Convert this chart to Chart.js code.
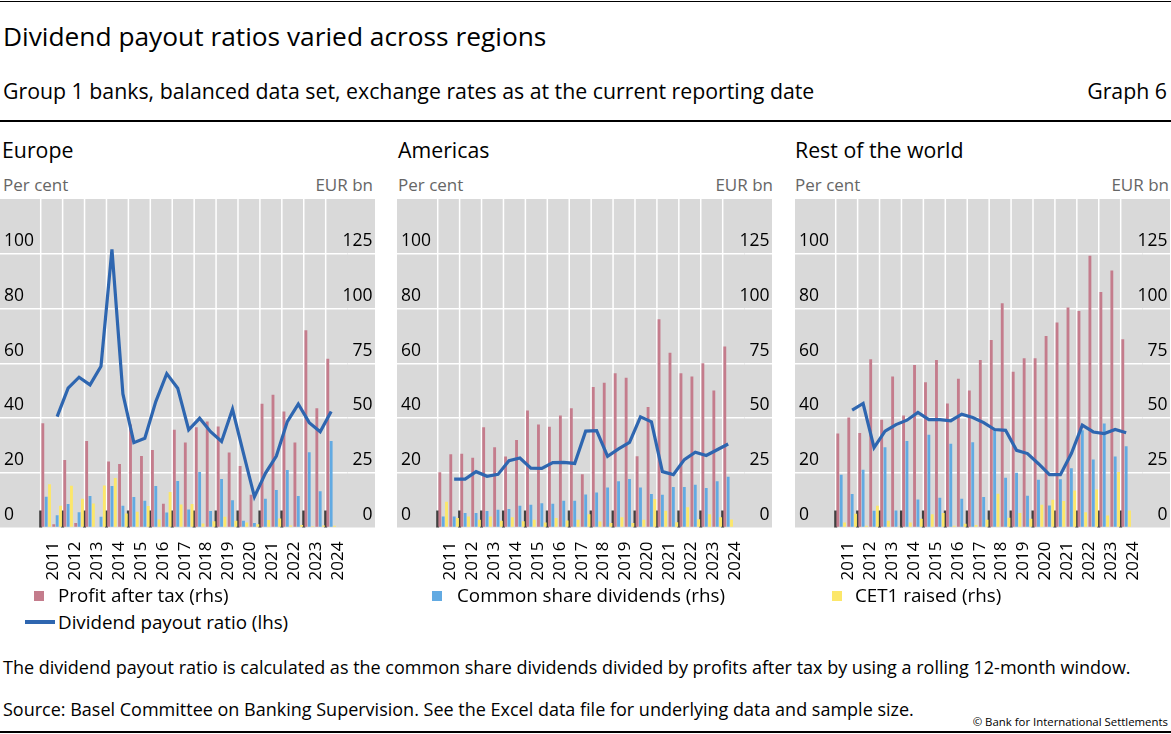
<!DOCTYPE html>
<html>
<head>
<meta charset="utf-8">
<script src="https://cdn.jsdelivr.net/npm/chart.js@4/dist/chart.umd.min.js"></script>
<style>
  body { margin: 0; background: #fff; width: 1171px; height: 734px; position: relative; overflow: hidden; font-family: "Open Sans", sans-serif; color: #000; }
  .t { position: absolute; white-space: nowrap; line-height: 1; }
  .rule { position: absolute; left: 0; width: 1171px; height: 1.5px; background: #000; }
  .panel { position: absolute; top: 199px; width: 375px; height: 400px; }
  .unit { color: #666; font-size: 17px; }
  .unit.r { width: 80px; text-align: right; }
  .sq { position: absolute; width: 10px; height: 10px; }
  .lg { font-size: 18.8px; }
</style>
</head>
<body>
<div class="rule" style="top:0.5px"></div>
<div class="t" style="left:3px; top:23.3px; font-size:26.3px;">Dividend payout ratios varied across regions</div>
<div class="t" style="left:3px; top:80.2px; font-size:21.3px;">Group 1 banks, balanced data set, exchange rates as at the current reporting date</div>
<div class="t" style="right:4px; top:80.2px; font-size:21.3px;">Graph 6</div>
<div class="rule" style="top:120px"></div>

<div class="t" style="left:2px; top:139px; font-size:21.3px;">Europe</div>
<div class="t" style="left:398px; top:139px; font-size:21.3px;">Americas</div>
<div class="t" style="left:795px; top:139px; font-size:21.3px;">Rest of the world</div>

<div class="t unit" style="left:3px; top:176px;">Per cent</div>
<div class="t unit" style="left:398px; top:176px;">Per cent</div>
<div class="t unit" style="left:795px; top:176px;">Per cent</div>
<div class="t unit r" style="left:293px; top:176px;">EUR bn</div>
<div class="t unit r" style="left:693px; top:176px;">EUR bn</div>
<div class="t unit r" style="left:1089px; top:176px;">EUR bn</div>

<div class="panel" style="left:0px"><canvas id="europe" width="375" height="400"></canvas></div>
<div class="panel" style="left:397px"><canvas id="americas" width="375" height="400"></canvas></div>
<div class="panel" style="left:795px"><canvas id="rest" width="375" height="400"></canvas></div>

<div class="sq" style="left:34px; top:591px; background:#c47c8c;"></div>
<div class="t lg" style="left:58px; top:586.3px;">Profit after tax (rhs)</div>
<div class="sq" style="left:432px; top:591px; background:#62aae2;"></div>
<div class="t lg" style="left:457px; top:586.3px;">Common share dividends (rhs)</div>
<div class="sq" style="left:832px; top:591px; background:#fce76a;"></div>
<div class="t lg" style="left:855px; top:586.3px;">CET1 raised (rhs)</div>
<div style="position:absolute; left:25px; top:620px; width:30px; height:3.5px; background:#2e66b0;"></div>
<div class="t lg" style="left:58px; top:613px;">Dividend payout ratio (lhs)</div>

<div class="t" style="left:3px; top:658.1px; font-size:18px;">The dividend payout ratio is calculated as the common share dividends divided by profits after tax by using a rolling 12-month window.</div>
<div class="t" style="left:3px; top:700.4px; font-size:18px;">Source: Basel Committee on Banking Supervision. See the Excel data file for underlying data and sample size.</div>
<div class="t" style="right:3px; top:716px; font-size:11.4px;">© Bank for International Settlements</div>
<div class="rule" style="top:731px"></div>

<script>
// half-year periods, 2011 H1 .. 2024 H2 (2024 H2 not yet reported)
const years = ['2011', '2012', '2013', '2014', '2015', '2016', '2017', '2018', '2019', '2020', '2021', '2022', '2023', '2024'];
const halfYears = [];
years.forEach(y => { halfYears.push(y + ' H1'); halfYears.push(y + ' H2'); });

const lhsTicks = [0, 20, 40, 60, 80, 100];
const rhsTicks = [0, 25, 50, 75, 100, 125];

// Europe
const europeProfit = [47.6, 1.5, 30.8, 2.0, 39.5, 0.3, 30.1, 29.0, 47.0, 32.7, 35.4, 10.8, 44.6, 38.8, 45.8, 48.4, 46.1, 34.2, 28.1, 15.0, 56.5, 60.6, 53.0, 38.8, 90.1, 54.5, 77.1];
const europeDividends = [14.0, 5.6, 10.7, 7.0, 14.4, 4.9, 18.9, 9.9, 13.9, 12.2, 18.9, 6.9, 21.2, 8.2, 25.3, 7.5, 22.1, 12.5, 3.1, 2.1, 13.1, 17.1, 26.3, 14.4, 34.4, 16.6, 39.5];
const europeCet1 = [19.7, 9.9, 19.1, 13.1, 11.0, 19.2, 22.6, 6.4, 7.2, 9.8, 3.7, 16.2, 10.5, 10.7, 1.8, 2.9, 4.9, 3.1, 2.3, 1.5, 3.4, 4.1, 0.9, 1.1, 0.6, 0.9, 0.8];
const europePayout = [null, 40.5, 50.9, 54.9, 52.1, 58.9, 101.6, 48.8, 31.0, 32.6, 46.0, 56.2, 50.9, 35.7, 39.9, 35.0, 31.4, 43.2, 27.1, 11.2, 19.8, 26.1, 38.7, 45.1, 38.3, 35.0, 42.4];

// Americas
const americasProfit = [25.2, 33.4, 33.7, 31.8, 45.8, 36.6, 32.4, 40.0, 53.4, 47.0, 46.0, 51.1, 54.4, 24.3, 64.1, 66.1, 70.4, 68.4, 32.5, 55.0, 95.1, 79.8, 70.4, 68.9, 75.0, 62.6, 82.7];
const americasDividends = [5.0, 5.0, 6.6, 6.6, 7.5, 8.1, 8.5, 9.9, 10.4, 11.1, 10.8, 12.2, 12.2, 15.1, 16.0, 18.3, 21.1, 22.1, 18.3, 15.3, 15.0, 18.5, 18.5, 19.5, 18.0, 21.1, 23.2];
const americasCet1 = [11.8, 4.3, 5.0, 3.5, 5.0, 3.1, 4.7, 2.9, 3.5, 2.3, 4.3, 3.2, 3.5, 6.1, 2.7, 2.0, 4.7, 2.0, 3.5, 13.0, 7.6, 2.4, 9.3, 3.8, 6.1, 4.7, 3.7];
const americasPayout = [null, 17.7, 17.7, 20.4, 18.7, 19.4, 24.4, 25.4, 21.7, 21.6, 23.7, 23.8, 23.4, 35.2, 35.4, 26.0, 28.7, 31.1, 40.4, 38.6, 20.4, 19.3, 24.8, 27.5, 26.3, 28.4, 30.5];

// Rest of the world
const restProfit = [42.9, 50.2, 43.1, 76.8, 49.2, 69.0, 51.1, 74.2, 66.3, 76.5, 56.6, 67.9, 62.6, 76.5, 85.6, 102.4, 71.1, 77.3, 77.3, 87.5, 93.6, 100.5, 98.9, 124.1, 107.5, 117.4, 86.0];
const restDividends = [24.1, 15.3, 26.4, 7.6, 36.6, 7.8, 39.5, 12.8, 42.4, 13.6, 38.2, 13.1, 38.9, 13.9, 44.4, 22.7, 25.0, 14.5, 21.8, 10.1, 22.0, 27.0, 44.4, 31.1, 47.5, 32.4, 37.1];
const restCet1 = [2.3, 6.3, 0.8, 9.9, 3.1, 0.5, 2.3, 4.0, 6.0, 6.6, 0.8, 1.7, 1.1, 3.5, 15.4, 4.4, 6.6, 4.0, 10.4, 12.7, 12.1, 16.9, 7.0, 17.3, 5.5, 25.3, 7.8];
const restPayout = [null, 42.9, 45.3, 29.2, 35.2, 37.6, 39.2, 42.0, 39.4, 39.4, 39.0, 41.4, 40.2, 38.3, 35.8, 35.5, 28.2, 27.0, 23.3, 19.3, 19.3, 27.0, 37.4, 34.9, 34.3, 35.8, 34.6];

Chart.defaults.font.family = '"Open Sans", sans-serif';
Chart.defaults.color = '#000';

// grey plot background, also behind the axis labels
const plotBackground = {
    id: 'plotBackground',
    beforeDraw(chart) {
        const { ctx, chartArea } = chart;
        ctx.save();
        ctx.fillStyle = '#d9d9d9';
        ctx.fillRect(0, chartArea.top, chart.width, chartArea.bottom - chartArea.top);
        ctx.restore();
    }
};

// white year gridlines plus short dark tick marks at the start of each year
const yearMarks = {
    id: 'yearMarks',
    beforeDatasetsDraw(chart) {
        const { ctx, chartArea } = chart;
        const xs = chart.scales.x;
        const half = (xs.getPixelForValue(1) - xs.getPixelForValue(0)) / 2;
        ctx.save();
        years.forEach((y, i) => {
            const px = xs.getPixelForValue(i * 2) - half;
            ctx.fillStyle = '#ffffff';
            ctx.fillRect(px - 0.75, chartArea.top, 1.5, chartArea.bottom - chartArea.top);
            ctx.fillStyle = '#404040';
            ctx.fillRect(px - 1.5, chartArea.bottom - 17, 3, 17);
        });
        ctx.restore();
    }
};

function makePanel(id, profit, dividends, cet1, payout) {
    const ctx = document.getElementById(id).getContext('2d');
    const barOpts = { yAxisID: 'y1', xAxisID: 'x', order: 2, barPercentage: 0.85, categoryPercentage: 0.92 };
    return new Chart(ctx, {
        type: 'bar',
        data: {
            labels: halfYears,
            datasets: [
                { label: 'Dividend payout ratio (lhs)', type: 'line', data: payout, yAxisID: 'y', xAxisID: 'x', order: 0,
                  borderColor: '#2e66b0', borderWidth: 3.2, pointRadius: 0, tension: 0, fill: false },
                Object.assign({ label: 'Profit after tax (rhs)', data: profit, backgroundColor: '#c47c8c' }, barOpts),
                Object.assign({ label: 'Common share dividends (rhs)', data: dividends, backgroundColor: '#62aae2' }, barOpts),
                Object.assign({ label: 'CET1 raised (rhs)', data: cet1, backgroundColor: '#fce76a' }, barOpts)
            ]
        },
        options: {
            responsive: false,
            animation: false,
            layout: { padding: { left: 4, right: 2.5, top: 0, bottom: 0 } },
            plugins: { legend: { display: false }, tooltip: { enabled: false } },
            scales: {
                x: { type: 'category', display: false, offset: true },
                x2: {
                    type: 'category', labels: years, position: 'bottom', offset: true,
                    border: { display: false },
                    grid: { display: false, drawTicks: false },
                    ticks: { autoSkip: false, minRotation: 90, maxRotation: 90, padding: 14, labelOffset: 1.5,
                             font: { size: 17 } },
                    afterFit: s => { s.height = 71.5; }
                },
                y: {
                    position: 'left', min: 0, max: 120,
                    border: { display: false },
                    afterBuildTicks: s => { s.ticks = lhsTicks.concat([120]).map(v => ({ value: v })); },
                    grid: { lineWidth: 1.5, tickLength: 41,
                            color: c => (c.tick && c.tick.value > 0 && c.tick.value < 120 ? '#ffffff' : 'rgba(0,0,0,0)') },
                    ticks: { crossAlign: 'far', labelOffset: -12.5, padding: 0, font: { size: 17.5 },
                             callback: v => (lhsTicks.includes(v) ? v : '') },
                    afterFit: s => { s.width = 36.7; s.paddingTop = 0; s.paddingBottom = 0; }
                },
                y1: {
                    position: 'right', min: 0, max: 150,
                    border: { display: false },
                    afterBuildTicks: s => { s.ticks = rhsTicks.concat([150]).map(v => ({ value: v })); },
                    grid: { drawOnChartArea: false, lineWidth: 1.5, tickLength: 30,
                            color: c => (c.tick && c.tick.value > 0 && c.tick.value < 150 ? '#ffffff' : 'rgba(0,0,0,0)') },
                    // mirrored so the wide labels are not clipped to the narrow axis box
                    ticks: { mirror: true, crossAlign: 'near', labelOffset: -12.5, padding: 24.9, font: { size: 17.5 },
                             callback: v => (rhsTicks.includes(v) ? v : '') },
                    afterFit: s => { s.width = 24.9; s.paddingTop = 0; s.paddingBottom = 0; }
                }
            }
        },
        plugins: [plotBackground, yearMarks]
    });
}

makePanel('europe', europeProfit, europeDividends, europeCet1, europePayout);
makePanel('americas', americasProfit, americasDividends, americasCet1, americasPayout);
makePanel('rest', restProfit, restDividends, restCet1, restPayout);
</script>
</body>
</html>
